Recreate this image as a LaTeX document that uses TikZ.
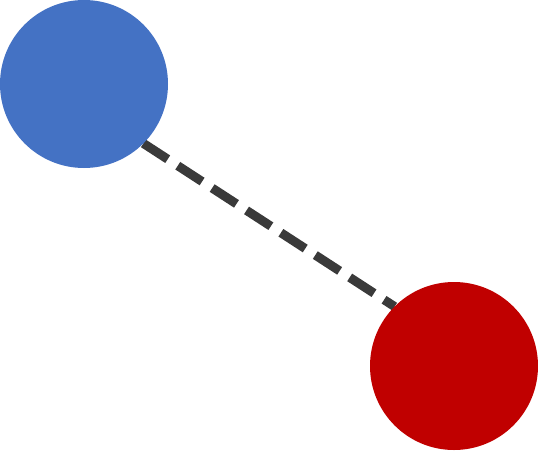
\documentclass[tikz,border=0pt]{standalone}
\usepackage{tikz}
\usetikzlibrary{backgrounds}
\definecolor{dotblue}{RGB}{68, 114, 196}
\definecolor{dotred}{RGB}{192, 0, 0}
\definecolor{linkgray}{RGB}{58, 58, 58}

\begin{document}
\begin{tikzpicture}[
  x=1pt, y=-1pt,
  dot/.style={circle, minimum size=168pt, inner sep=0pt, outer sep=0pt},
  link/.style={linkgray, line width=9pt, dash pattern=on 29pt off 12pt}
]
  \useasboundingbox (0, 0) rectangle (538, 450);
  \node[dot, fill=dotblue] (blue) at (84, 84) {};
  \node[dot, fill=dotred] (red) at (454, 366) {};

  \begin{pgfonlayer}{background}
    \draw[link] (blue.south east) -- (red.north west);
  \end{pgfonlayer}
\end{tikzpicture}
\end{document}
